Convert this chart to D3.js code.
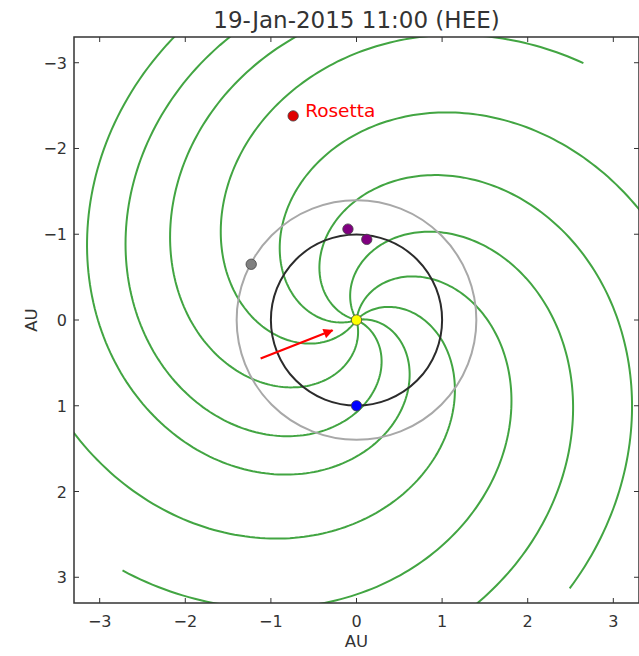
<!DOCTYPE html>
<html>
<head>
<meta charset="utf-8">
<script src="https://cdn.jsdelivr.net/npm/d3@7"></script>
<style>
  body { margin: 0; background: #fff; }
  text { font-family: "DejaVu Sans", sans-serif; fill: #333; }
</style>
</head>
<body>
<div id="chart"></div>
<script>
// chart size
var svgWidth = 639;
var svgHeight = 656;

// axis ticks
var xTicks = [-3, -2, -1, 0, 1, 2, 3];
var yTicks = [-3, -2, -1, 0, 1, 2, 3];

// bodies (HEE, AU) - y grows downward in this view
var bodyNames = ["Sun", "STEREO-B", "STEREO-A", "Mars", "Earth", "Rosetta"];
var bodyX = [0, -0.10, 0.12, -1.23, 0, -0.74];
var bodyY = [0, -1.06, -0.94, -0.65, 1.0, -2.38];
var bodyColors = ["#ffff00", "#800080", "#800080", "#808080", "#0000ff", "#e00000"];

// orbit circles
var orbitRadii = [1.40, 1.0];
var orbitColors = ["#a8a8a8", "#2b2b2b"];

// parker spirals: start longitude (deg) and twist (deg per AU)
var spiralLon = [193.9, 240.1, 277.5, 314.6, 349.7, 24.1, 74.8, 124.7, 161.8];
var spiralTwist = [54.4, 52.0, 53.9, 57.3, 63.0, 61.3, 54.2, 46.7, 49.9];
var spiralRmax = 4.0;

// arrow (AU)
var arrowFrom = [-1.12, 0.45];
var arrowTo = [-0.28, 0.12];

var margin = {top: 37, left: 74};
var plotW = 565;
var plotH = 566;

var svg = d3.select("#chart").append("svg")
    .attr("width", svgWidth)
    .attr("height", svgHeight);

var x = d3.scaleLinear().domain([-3.3, 3.3]).range([margin.left, margin.left + plotW]);
var y = d3.scaleLinear().domain([-3.3, 3.3]).range([margin.top, margin.top + plotH]);

svg.append("clipPath").attr("id", "clip")
  .append("rect")
    .attr("x", margin.left).attr("y", margin.top)
    .attr("width", plotW).attr("height", plotH);

var plot = svg.append("g").attr("clip-path", "url(#clip)");

// spirals
var line = d3.line().x(d => x(d[0])).y(d => y(d[1]));
spiralLon.forEach(function(lon, i) {
    var pts = d3.range(0, spiralRmax + 0.001, 0.02).map(function(r) {
        var th = (lon + spiralTwist[i] * r) * Math.PI / 180;
        return [r * Math.cos(th), r * Math.sin(th)];
    });
    plot.append("path")
        .attr("d", line(pts))
        .attr("fill", "none")
        .attr("stroke", "#42a542")
        .attr("stroke-width", 2);
});

// orbits
orbitRadii.forEach(function(r, i) {
    plot.append("circle")
        .attr("cx", x(0)).attr("cy", y(0))
        .attr("r", x(r) - x(0))
        .attr("fill", "none")
        .attr("stroke", orbitColors[i])
        .attr("stroke-width", 2);
});

// arrow
svg.append("defs").append("marker")
    .attr("id", "head")
    .attr("viewBox", "0 0 10 10")
    .attr("refX", 9).attr("refY", 5)
    .attr("markerWidth", 5).attr("markerHeight", 4.5)
    .attr("markerUnits", "strokeWidth")
    .attr("orient", "auto")
  .append("path")
    .attr("d", "M0,0 L10,5 L0,10 z")
    .attr("fill", "#ff0000");

plot.append("line")
    .attr("x1", x(arrowFrom[0])).attr("y1", y(arrowFrom[1]))
    .attr("x2", x(arrowTo[0])).attr("y2", y(arrowTo[1]))
    .attr("stroke", "#ff0000")
    .attr("stroke-width", 2.2)
    .attr("marker-end", "url(#head)");

// bodies
plot.selectAll(".body")
    .data(bodyNames)
    .enter().append("circle")
    .attr("class", "body")
    .attr("cx", (d, i) => x(bodyX[i]))
    .attr("cy", (d, i) => y(bodyY[i]))
    .attr("r", 5.2)
    .attr("fill", (d, i) => bodyColors[i])
    .attr("stroke", "#444")
    .attr("stroke-width", 0.8);

svg.append("text")
    .attr("x", x(bodyX[5]) + 12).attr("y", y(bodyY[5]) + 1)
    .style("fill", "#ff0000")
    .style("font-size", "18.5px")
    .text("Rosetta");

// frame
svg.append("rect")
    .attr("x", margin.left).attr("y", margin.top)
    .attr("width", plotW).attr("height", plotH)
    .attr("fill", "none")
    .attr("stroke", "#333")
    .attr("stroke-width", 1.5);

// ticks, inside on all sides
var tickLen = 5;
var axes = svg.append("g").attr("stroke", "#333").attr("stroke-width", 1);
xTicks.forEach(function(t) {
    axes.append("line").attr("x1", x(t)).attr("x2", x(t))
        .attr("y1", margin.top + plotH).attr("y2", margin.top + plotH - tickLen);
    axes.append("line").attr("x1", x(t)).attr("x2", x(t))
        .attr("y1", margin.top).attr("y2", margin.top + tickLen);
});
yTicks.forEach(function(t) {
    axes.append("line").attr("y1", y(t)).attr("y2", y(t))
        .attr("x1", margin.left).attr("x2", margin.left + tickLen);
    axes.append("line").attr("y1", y(t)).attr("y2", y(t))
        .attr("x1", margin.left + plotW).attr("x2", margin.left + plotW - tickLen);
});

var fmt = d => (d < 0 ? "\u2212" + Math.abs(d) : String(d));

svg.selectAll(".xt").data(xTicks).enter().append("text")
    .attr("x", d => x(d)).attr("y", margin.top + plotH + 24)
    .attr("text-anchor", "middle")
    .style("font-size", "16px")
    .text(fmt);

svg.selectAll(".yt").data(yTicks).enter().append("text")
    .attr("x", margin.left - 7).attr("y", d => y(d) + 6)
    .attr("text-anchor", "end")
    .style("font-size", "16px")
    .text(fmt);

// labels
svg.append("text")
    .attr("x", x(0)).attr("y", 647)
    .attr("text-anchor", "middle")
    .style("font-size", "16.5px")
    .text("AU");

svg.append("text")
    .attr("transform", "translate(37," + y(0) + ") rotate(-90)")
    .attr("text-anchor", "middle")
    .style("font-size", "16.5px")
    .text("AU");

svg.append("text")
    .attr("x", x(0)).attr("y", 28)
    .attr("text-anchor", "middle")
    .style("font-size", "23px")
    .text("19-Jan-2015 11:00 (HEE)");
</script>
</body>
</html>
